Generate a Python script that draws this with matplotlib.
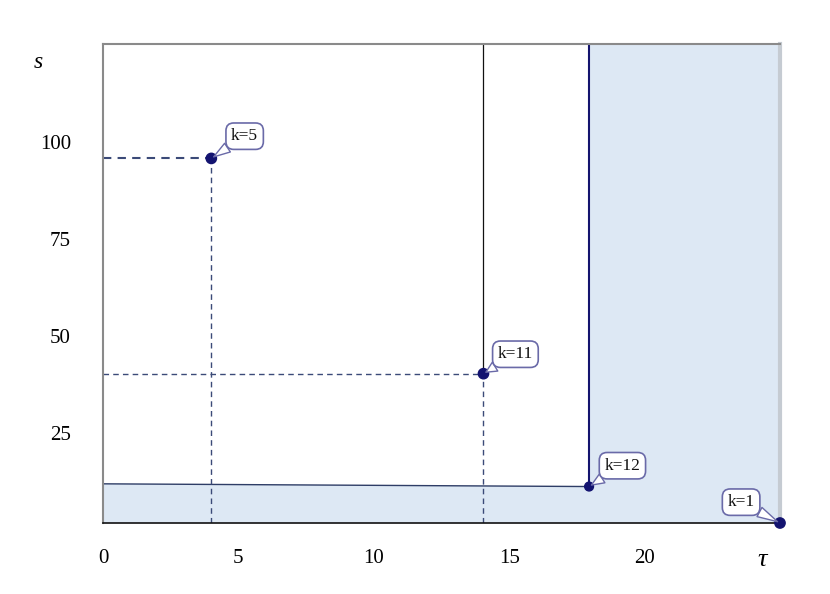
import matplotlib
matplotlib.use("Agg")
import matplotlib.pyplot as plt
from matplotlib.patches import Polygon
from matplotlib.transforms import ScaledTranslation

# data
labels = ["k=5", "k=11", "k=12", "k=1"]
tau = [4.0, 14.05, 17.95, 25.0]
s = [94.0, 38.5, 9.4, 0.0]
boundary_left_s = 10.1
x_ticks = [0, 5, 10, 15, 20]
y_ticks = [25, 50, 75, 100]
xmax, ymax = 25.0, 123.5

plt.rcParams['font.family'] = ['Liberation Serif', 'DejaVu Serif']

fig = plt.figure(figsize=(8.3, 5.94), dpi=100)
ax = fig.add_axes([103/830, 71/594, (780-103)/830, (523-44)/594])
ax.set_xlim(0, xmax)
ax.set_ylim(0, ymax)

# shaded feasible region
k12x, k12y = tau[2], s[2]
poly = Polygon([(0, 0), (0, boundary_left_s), (k12x, k12y), (k12x, ymax),
                (xmax, ymax), (xmax, 0)], closed=True,
               facecolor="#dde8f4", edgecolor="none", zorder=0)
ax.add_patch(poly)

# boundary lines
ax.plot([0, k12x], [boundary_left_s, k12y], color="#2e3d66", lw=1.0, zorder=2)
ax.plot([k12x, k12x], [k12y, ymax], color="#14146e", lw=1.5, zorder=2)
ax.plot([tau[1], tau[1]], [s[1], ymax], color="#111111", lw=0.9, zorder=2)
ax.plot([xmax, xmax], [0, ymax], color="#c5cbd2", lw=3, zorder=2, clip_on=False)

# dashed projections
dash_c = "#3b4a78"
for i in range(2):
    ax.plot([0, tau[i]], [s[i], s[i]], ls=(0, (4, 3)), color=dash_c,
            lw=1.5 if i == 0 else 1.0, zorder=2)
    ax.plot([tau[i], tau[i]], [0, s[i]], ls=(0, (4, 3)), color=dash_c, lw=1.0, zorder=2)

# points
ax.scatter(tau, s, s=[55, 55, 40, 55], color="#131370", zorder=5, clip_on=False)

# callouts
offsets = [(24, 16), (23, 14), (24, 15), (-28, 15)]
for lab, x, y, off in zip(labels, tau, s, offsets):
    ax.annotate(lab, xy=(x, y), xytext=off, textcoords="offset points",
                fontsize=12.5, ha="center", va="center", color="#111111",
                bbox=dict(boxstyle="round,pad=0.3,rounding_size=0.45", fc="white",
                          ec="#6a6aa8", lw=1.2),
                arrowprops=dict(arrowstyle="wedge,tail_width=0.6,shrink_factor=0.5",
                                fc="white", ec="#6a6aa8", lw=1.0,
                                shrinkA=0, shrinkB=2),
                zorder=6, annotation_clip=False)

# spines
for side in ["left", "top"]:
    ax.spines[side].set_color("#8a8a8a")
    ax.spines[side].set_linewidth(1.5)
ax.spines["bottom"].set_color("#111111")
ax.spines["bottom"].set_linewidth(1.2)
ax.spines["right"].set_visible(False)

ax.set_xticks(x_ticks)
ax.set_yticks(y_ticks)
ax.tick_params(length=0, labelsize=15)
ax.tick_params(axis="x", pad=19)
ax.tick_params(axis="y", pad=23)
shift = ScaledTranslation(0, -7/100, fig.dpi_scale_trans)
for lbl in ax.get_yticklabels():
    lbl.set_transform(lbl.get_transform() + shift)

fig.text(38/830, 1 - 62/594, "s", fontsize=17, style="italic", ha="center", va="center")
fig.text(762/830, 1 - 560/594, "τ", fontsize=19, style="italic", ha="center", va="center")

fig.savefig("out.png", dpi=100)
